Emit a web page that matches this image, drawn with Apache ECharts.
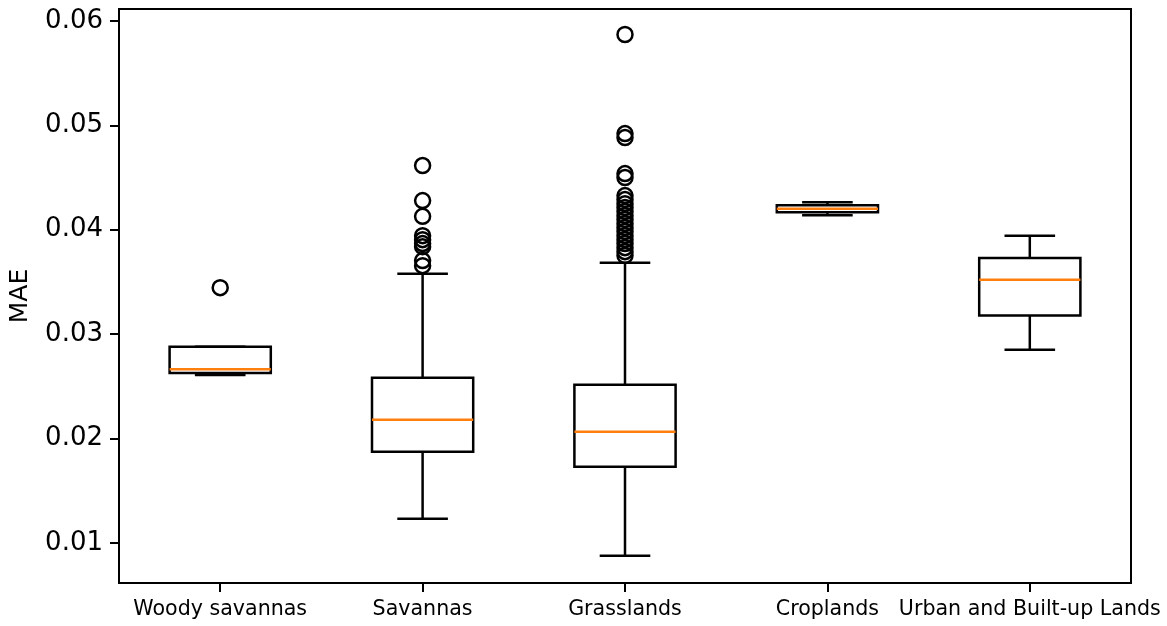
<!DOCTYPE html>
<html>
<head>
<meta charset="utf-8">
<script src="https://cdn.jsdelivr.net/npm/echarts@6/dist/echarts.min.js"></script>
<style>
  html, body { margin: 0; padding: 0; background: #fff; }
  #chart { width: 1167px; height: 626px; }
</style>
</head>
<body>
<div id="chart"></div>
<script>
// Land-cover classes on the x axis
const categories = ['Woody savannas', 'Savannas', 'Grasslands', 'Croplands', 'Urban and Built-up Lands'];

// Box statistics per class: [lower whisker, Q1, median, Q3, upper whisker]
const woodySavannasStats = [0.02608, 0.02627, 0.02663, 0.02879, 0.02879];
const savannasStats      = [0.01230, 0.01872, 0.02179, 0.02582, 0.03579];
const grasslandsStats    = [0.00875, 0.01728, 0.02064, 0.02515, 0.03684];
const croplandsStats     = [0.04138, 0.04167, 0.04202, 0.04234, 0.04263];
const urbanStats         = [0.02850, 0.03179, 0.03521, 0.03730, 0.03943];

// Flier values beyond the whiskers, per class
const woodySavannasOutliers = [0.03445];
const savannasOutliers = [0.04615, 0.04279, 0.04128, 0.03943, 0.03905, 0.03867, 0.03838, 0.03704, 0.03656];
const grasslandsOutliers = [0.05871, 0.04921, 0.04883, 0.04538, 0.04500,
  0.04327, 0.04289, 0.04250, 0.04212, 0.04174, 0.04135, 0.04097, 0.04058,
  0.04020, 0.03982, 0.03943, 0.03905, 0.03867, 0.03828, 0.03790, 0.03752];
const croplandsOutliers = [];
const urbanOutliers = [];

// Y tick values and axis limits
const yTicks = [0.01, 0.02, 0.03, 0.04, 0.05, 0.06];
const yMin = 0.00615;
const yMax = 0.06115;

const allStats = [woodySavannasStats, savannasStats, grasslandsStats, croplandsStats, urbanStats];
const allOutliers = [woodySavannasOutliers, savannasOutliers, grasslandsOutliers, croplandsOutliers, urbanOutliers];

const boxData = allStats.map((s, i) => [i].concat(s));
const flierData = [];
allOutliers.forEach((arr, i) => arr.forEach(v => flierData.push([i, v])));

const LW = 2.5;
const FONT = 'DejaVu Sans';

function renderBox(params, api) {
  const idx = api.value(0);
  const lo = api.coord([idx, api.value(1)]);
  const q1 = api.coord([idx, api.value(2)]);
  const med = api.coord([idx, api.value(3)]);
  const q3 = api.coord([idx, api.value(4)]);
  const hi = api.coord([idx, api.value(5)]);
  const band = api.size([1, 0])[0];
  const half = band * 0.25;
  const capHalf = band * 0.125;
  const cx = lo[0];
  const black = { stroke: '#000', lineWidth: LW, fill: null };
  return {
    type: 'group',
    children: [
      { type: 'line', shape: { x1: cx, y1: lo[1], x2: cx, y2: q1[1] }, style: black },
      { type: 'line', shape: { x1: cx, y1: q3[1], x2: cx, y2: hi[1] }, style: black },
      { type: 'line', shape: { x1: cx - capHalf, y1: lo[1], x2: cx + capHalf, y2: lo[1] }, style: black },
      { type: 'line', shape: { x1: cx - capHalf, y1: hi[1], x2: cx + capHalf, y2: hi[1] }, style: black },
      { type: 'rect', shape: { x: cx - half, y: q3[1], width: half * 2, height: q1[1] - q3[1] }, style: black },
      { type: 'line', shape: { x1: cx - half, y1: med[1], x2: cx + half, y2: med[1] },
        style: { stroke: '#ff7f0e', lineWidth: LW } }
    ]
  };
}

const chart = echarts.init(document.getElementById('chart'), null, { renderer: 'canvas' });
chart.setOption({
  animation: false,
  backgroundColor: '#fff',
  grid: {
    left: 119, right: 36, top: 9, bottom: 43,
    show: true, borderColor: '#000', borderWidth: 2, backgroundColor: '#fff'
  },
  xAxis: {
    type: 'category',
    data: categories,
    boundaryGap: true,
    axisLine: { show: true, lineStyle: { color: '#000', width: 2 } },
    axisTick: { show: true, alignWithLabel: true, length: 9, lineStyle: { color: '#000', width: 2 } },
    axisLabel: { color: '#000', fontSize: 20.6, fontFamily: FONT, margin: 16, interval: 0 },
    splitLine: { show: false }
  },
  yAxis: {
    type: 'value',
    min: yMin,
    max: yMax,
    name: 'MAE',
    nameLocation: 'middle',
    nameGap: 86,
    nameTextStyle: { color: '#000', fontSize: 25, fontFamily: FONT },
    axisLine: { show: true, lineStyle: { color: '#000', width: 2 } },
    axisTick: { show: true, length: 9, customValues: yTicks, lineStyle: { color: '#000', width: 2 } },
    axisLabel: {
      color: '#000', fontSize: 26, fontFamily: FONT, margin: 16,
      customValues: yTicks,
      formatter: v => v.toFixed(2)
    },
    splitLine: { show: false }
  },
  series: [
    {
      type: 'custom',
      renderItem: renderBox,
      encode: { x: 0, y: [1, 2, 3, 4, 5] },
      data: boxData,
      z: 2
    },
    {
      type: 'scatter',
      data: flierData,
      symbol: 'circle',
      symbolSize: 15,
      itemStyle: { color: 'rgba(0,0,0,0)', borderColor: '#000', borderWidth: LW, opacity: 1 },
      emphasis: { disabled: true },
      z: 3
    }
  ]
});
</script>
</body>
</html>
